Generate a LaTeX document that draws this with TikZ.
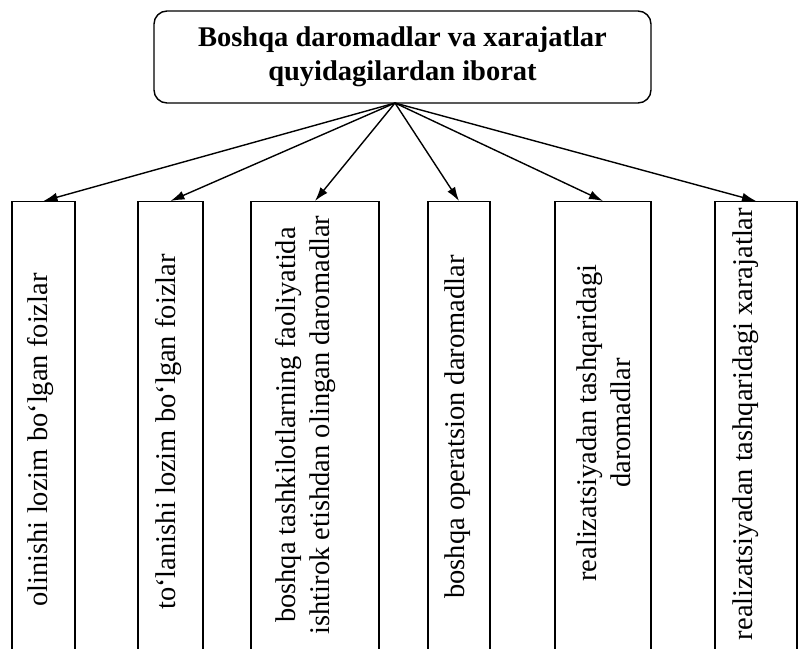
\documentclass[tikz,border=0pt]{standalone}
\usepackage{fontspec}
\setmainfont{Liberation Serif}
\usetikzlibrary{arrows.meta}
\begin{document}
\begin{tikzpicture}[x=1pt,y=-1pt,
  conn/.style={line width=1.4pt,-{Latex[length=14pt,width=9pt]}},
  itembox/.style={draw,line width=1.4pt,anchor=north,minimum height=480pt,inner sep=0pt},
  vtext/.style={rotate=90,align=center,font=\fontsize{28.5}{34}\selectfont,inner sep=0pt},
]
\useasboundingbox (0,0) rectangle (805,648);
\clip (0,0) rectangle (805,648);
\fill[white] (0,0) rectangle (805,648);
\node[draw,line width=1.4pt,rounded corners=13pt,minimum width=497pt,minimum height=92pt,inner sep=0pt,align=center,font=\fontsize{28.5}{34}\selectfont\bfseries] (top) at (402.5,57) {Boshqa daromadlar va xarajatlar\\quyidagilardan iborat};
\coordinate (src) at (395,103);
\node[itembox,minimum width=63pt] (b1) at (43.5,201) {};
\node[itembox,minimum width=65pt] (b2) at (170.5,201) {};
\node[itembox,minimum width=128pt] (b3) at (315,201) {};
\node[itembox,minimum width=62pt] (b4) at (459,201) {};
\node[itembox,minimum width=96pt] (b5) at (603,201) {};
\node[itembox,minimum width=82pt] (b6) at (756,201) {};
\node[vtext] (t1) at (41,440) {olinishi lozim bo‘lgan foizlar};
\node[vtext] (t2) at (169,432) {to‘lanishi lozim bo‘lgan foizlar};
\node[vtext] (t3) at (306,425) {boshqa tashkilotlarning faoliyatida\\ishtirok etishdan olingan daromadlar};
\node[vtext] (t4) at (458,427) {boshqa operatsion daromadlar};
\node[vtext] (t5) at (604,423) {realizatsiyadan tashqaridagi\\daromadlar};
\node[vtext] (t6) at (746,424) {realizatsiyadan tashqaridagi xarajatlar};
\foreach \b in {b1,b2,b3,b4,b5,b6} \draw[conn] (src) -- (\b.north);
\end{tikzpicture}
\end{document}
